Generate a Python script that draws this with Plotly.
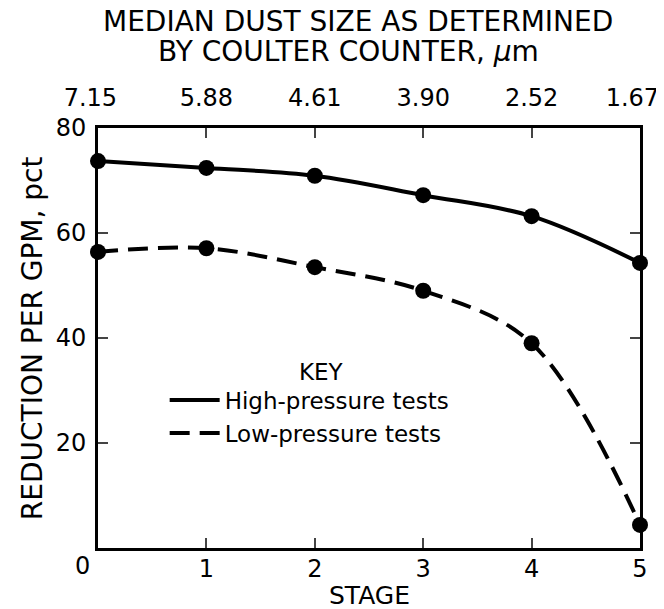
import plotly.graph_objects as go

stages = [0, 1, 2, 3, 4, 5]
dust_size_labels = ["7.15", "5.88", "4.61", "3.90", "2.52", "1.67"]
high_pressure = [73.7, 72.4, 70.9, 67.2, 63.2, 54.3]
low_pressure = [56.4, 57.1, 53.5, 49.0, 39.0, 4.4]

FONT = "DejaVu Sans"
TICK = 24
NB = "\u00a0"
# end labels sit slightly inward in the reference
top_ticktext = [dust_size_labels[0] + NB * 2] + dust_size_labels[1:-1] + [dust_size_labels[-1] + NB * 2]

fig = go.Figure()

fig.add_trace(go.Scatter(x=stages, y=high_pressure, mode="lines", line_shape="spline",
                         line=dict(color="black", width=4), name="High-pressure tests"))
fig.add_trace(go.Scatter(x=stages, y=low_pressure, mode="lines", line_shape="spline",
                         line=dict(color="black", width=4, dash="20px,10px"), name="Low-pressure tests"))
fig.add_trace(go.Scatter(x=stages, y=high_pressure, mode="markers", showlegend=False,
                         marker=dict(color="black", size=16), cliponaxis=False))
fig.add_trace(go.Scatter(x=stages, y=low_pressure, mode="markers", showlegend=False,
                         marker=dict(color="black", size=16), cliponaxis=False))
# invisible trace on top axis
fig.add_trace(go.Scatter(x=stages, y=high_pressure, xaxis="x2", mode="markers",
                         marker=dict(opacity=0), showlegend=False, hoverinfo="skip"))

# page body has an 8px margin; figure is sized to fit the 664x609 window
fig.update_layout(
    width=656, height=601,
    margin=dict(l=90, r=24, t=120, b=61),
    paper_bgcolor="white", plot_bgcolor="white",
    font=dict(family=FONT, size=TICK, color="black"),
    xaxis=dict(range=[0, 5], tickvals=stages[1:], ticktext=[str(s) for s in stages[1:]],
               ticks="inside", ticklen=10, tickwidth=2, showline=True, linewidth=3, linecolor="black",
               mirror="ticks", showgrid=False, zeroline=False, ticklabelstandoff=-3, automargin=False,
               ticklabeloverflow="allow", tickfont=dict(size=TICK)),
    xaxis2=dict(range=[0, 5], overlaying="x", side="top", tickvals=stages, ticktext=top_ticktext,
                ticks="", showgrid=False, zeroline=False, showline=False, ticklabelstandoff=16,
                automargin=False, ticklabeloverflow="allow", tickfont=dict(size=TICK)),
    yaxis=dict(range=[0, 80], tickvals=[20, 40, 60, 80], ticks="inside", ticklen=10, tickwidth=2,
               showline=True, linewidth=3, linecolor="black", mirror="ticks", showgrid=False,
               zeroline=False, ticklabelstandoff=4, automargin=False, ticklabeloverflow="allow",
               tickfont=dict(size=TICK)),
    legend=dict(x=0.123, y=0.313, xanchor="left", yanchor="middle", bgcolor="rgba(0,0,0,0)",
                font=dict(size=23), itemwidth=50, tracegroupgap=0),
    annotations=[
        dict(text="MEDIAN DUST SIZE AS DETERMINED", xref="paper", yref="paper",
             x=0.48, y=1.2524, xanchor="center", yanchor="middle",
             showarrow=False, font=dict(size=28)),
        dict(text="BY COULTER COUNTER, <i>μ</i>m", xref="paper", yref="paper",
             x=0.462, y=1.181, xanchor="center", yanchor="middle",
             showarrow=False, font=dict(size=28)),
        dict(text="REDUCTION PER GPM, pct", xref="paper", yref="paper",
             x=-0.1215, y=0.5, xanchor="center", yanchor="middle", textangle=-90,
             showarrow=False, font=dict(size=28)),
        dict(text="STAGE", xref="paper", yref="paper",
             x=0.5, y=-0.152, xanchor="center", yanchor="bottom",
             showarrow=False, font=dict(size=25)),
        dict(text="KEY", xref="paper", yref="paper",
             x=0.413, y=0.419, xanchor="center", yanchor="middle",
             showarrow=False, font=dict(size=23)),
        dict(text="0", xref="x", yref="paper", x=0, y=0, xshift=-16, yshift=-18,
             xanchor="center", yanchor="middle", showarrow=False, font=dict(size=TICK)),
    ],
)

fig.write_html("out.html")
